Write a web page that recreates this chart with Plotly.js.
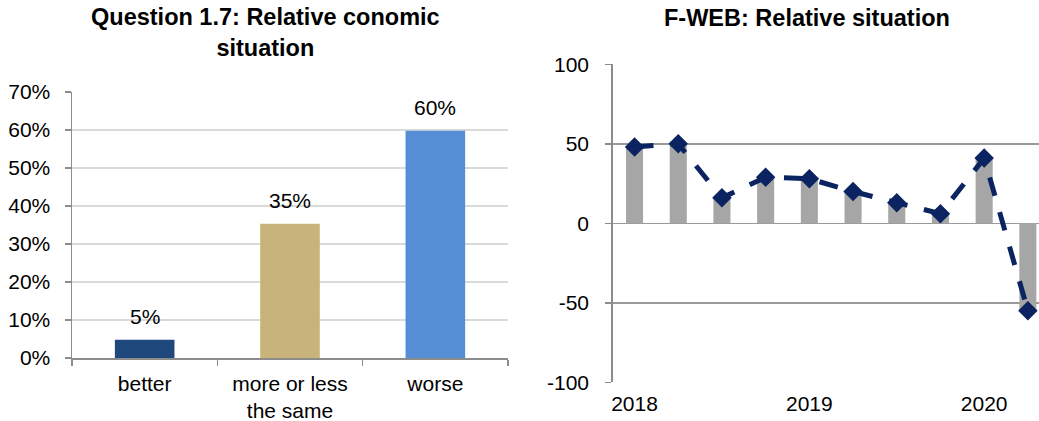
<!DOCTYPE html>
<html>
<head>
<meta charset="utf-8">
<script src="https://cdn.plot.ly/plotly-3.0.1.min.js"></script>
<style>html,body{margin:0;padding:0;background:#fff}#chart{width:1039px;height:421px}</style>
</head>
<body>
<div id="chart"></div>
<script>
// Left chart: Question 1.7
const answerCategories = ["better", "more or less<br>the same", "worse"];
const answerShares = [4.8, 35.3, 59.8];
const answerLabels = ["5%", "35%", "60%"];
const answerColors = ["#1F487C", "#C8B47A", "#558ED5"];
const leftTicks = [0, 10, 20, 30, 40, 50, 60, 70];
const leftTickText = ["0%", "10%", "20%", "30%", "40%", "50%", "60%", "70%"];

// Right chart: F-WEB relative situation (quarterly, 2018 Q1 - 2020 Q2)
const quarters = [0, 1, 2, 3, 4, 5, 6, 7, 8, 9];
const relativeBalance = [48, 50, 16, 29, 28, 20, 13, 6, 41, -55];
const yearTickPos = [0, 4, 8];
const yearTickText = ["2018", "2019", "2020"];
const rightTicks = [-100, -50, 0, 50, 100];
const rightTickText = ["-100", "-50", "0", "50", "100"];
const quarterBoundaries = [0.5, 1.5, 2.5, 3.5, 4.5, 5.5, 6.5, 7.5, 8.5];

const W = 1039, H = 421;
const fx = px => px / W;
const fy = py => 1 - py / H;

const FONT = "Liberation Sans, Arial, sans-serif";
const TICK = 21;

const traces = [
  {
    type: "bar", x: answerCategories, y: answerShares,
    marker: {color: answerColors},
    width: 0.41, xaxis: "x", yaxis: "y", hoverinfo: "skip"
  },
  {
    type: "bar", x: quarters, y: relativeBalance,
    marker: {color: "#A6A6A6"}, width: 0.39,
    xaxis: "x2", yaxis: "y2", hoverinfo: "skip"
  },
  {
    type: "scatter", mode: "lines+markers", x: quarters, y: relativeBalance,
    line: {color: "#0B2461", width: 5, dash: "19px,17px"},
    marker: {symbol: "diamond", size: 15, color: "#0B2461"},
    cliponaxis: false,
    xaxis: "x2", yaxis: "y2", hoverinfo: "skip"
  }
];

const barLabelAnnotations = answerCategories.map((c, i) => ({
  xref: "x", yref: "y", x: c, y: answerShares[i],
  text: answerLabels[i], showarrow: false,
  xanchor: "center", yanchor: "middle", yshift: 23,
  font: {size: TICK, family: FONT, color: "#000"}
}));

const layout = {
  width: W, height: H,
  margin: {l: 0, r: 0, t: 0, b: 0},
  paper_bgcolor: "#fff", plot_bgcolor: "#fff",
  showlegend: false,
  font: {family: FONT, color: "#000", size: TICK},
  xaxis: {
    domain: [fx(72), fx(508)], anchor: "y",
    type: "category", tickson: "boundaries",
    ticks: "outside", ticklen: 6, tickcolor: "#8C8C8C", tickwidth: 1.5,
    showline: true, linecolor: "#8C8C8C", linewidth: 1.5,
    showgrid: false, tickfont: {size: TICK, family: FONT, color: "#000"},
    ticklabelstandoff: 6
  },
  yaxis: {
    domain: [fy(358), fy(92)], anchor: "x",
    range: [0, 70], tickvals: leftTicks, ticktext: leftTickText,
    ticks: "outside", ticklen: 6, tickcolor: "#8C8C8C", tickwidth: 1.5,
    showline: true, linecolor: "#8C8C8C", linewidth: 1.5,
    showgrid: true, gridcolor: "#D9D9D9", gridwidth: 1.5,
    zeroline: false, tickfont: {size: TICK, family: FONT, color: "#000"},
    ticklabelstandoff: 10
  },
  xaxis2: {
    domain: [fx(612.7), 1], anchor: "y2",
    range: [-0.5, 9.255], tickvals: yearTickPos, ticktext: yearTickText,
    ticks: "", showline: false, showgrid: false, zeroline: false,
    tickfont: {size: TICK, family: FONT, color: "#000"},
    ticklabelstandoff: 7
  },
  xaxis3: {
    overlaying: "x2", anchor: "free", position: fy(223.3),
    range: [-0.5, 9.255], tickvals: quarterBoundaries, ticktext: quarterBoundaries.map(() => ""),
    ticks: "outside", ticklen: 6, tickcolor: "#8C8C8C", tickwidth: 1.5,
    showline: true, linecolor: "#8C8C8C", linewidth: 1.5,
    showgrid: false, zeroline: false, showticklabels: false
  },
  yaxis2: {
    domain: [fy(382.3), fy(64.3)], anchor: "x2",
    range: [-100, 100], tickvals: rightTicks, ticktext: rightTickText,
    ticks: "outside", ticklen: 6, tickcolor: "#8C8C8C", tickwidth: 1.5,
    showline: true, linecolor: "#8C8C8C", linewidth: 1.5,
    showgrid: true, gridcolor: "#9A9A9A", gridwidth: 1.5,
    zeroline: false, tickfont: {size: TICK, family: FONT, color: "#000"},
    ticklabelstandoff: 12
  },
  annotations: barLabelAnnotations.concat([
    {
      xref: "paper", yref: "paper", x: fx(265), y: fy(32), xanchor: "center", yanchor: "middle",
      text: "<b>Question 1.7: Relative conomic<br>situation</b>", showarrow: false,
      font: {size: 23.5, family: FONT, color: "#000"}
    },
    {
      xref: "paper", yref: "paper", x: fx(807), y: fy(18), xanchor: "center", yanchor: "middle",
      text: "<b>F-WEB: Relative situation</b>", showarrow: false,
      font: {size: 23.5, family: FONT, color: "#000"}
    }
  ])
};

Plotly.newPlot("chart", traces, layout, {staticPlot: true, displayModeBar: false});
</script>
</body>
</html>
